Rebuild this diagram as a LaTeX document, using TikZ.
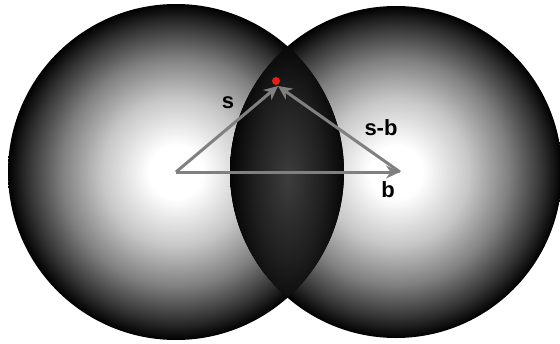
\documentclass[tikz,border=0pt]{standalone}
\usepackage{fontspec}
\setmainfont{Liberation Sans}
\usetikzlibrary{arrows.meta}
\pgfdeclareradialshading{sphereglow}{\pgfpoint{0bp}{0bp}}{color(0bp)=(white); color(4bp)=(white); color(11bp)=(black!22); color(17bp)=(black!50); color(22bp)=(black!80); color(25bp)=(black); color(50bp)=(black)}
\pgfdeclareradialshading{lensglow}{\pgfpoint{0bp}{0bp}}{color(0bp)=(black!76); color(14bp)=(black!88); color(25bp)=(black); color(50bp)=(black)}
\definecolor{vecgray}{gray}{0.5}
\definecolor{pointred}{RGB}{230,30,20}
\tikzset{
ballshade/.style={shading=sphereglow},
vector/.style={draw=vecgray,line width=3pt,-{Stealth[length=14pt,width=13pt]}},
vlabel/.style={font=\bfseries\fontsize{22}{24}\selectfont,inner sep=0pt},
point/.style={circle,fill=pointred,inner sep=0pt,minimum size=8pt}
}
\begin{document}
\begin{tikzpicture}[x=1pt,y=-1pt]
\useasboundingbox[fill=white](0,0) rectangle (560,343);
\coordinate(origin) at (176,172);\coordinate(base) at (400,172);\coordinate(target) at (278,86);
% the two spheres
\shade[ballshade](176,172) circle (168pt);
\shade[ballshade](396,172) circle (166pt);
% overlap
\begin{scope}
\clip(176,172) circle (168pt);\clip(396,172) circle (166pt);
\fill[black](220,0) rectangle (360,343);
\shade[shading=lensglow](288,178) ellipse (62pt and 150pt);
\end{scope}
\node[point](hit) at (276,81){};
\draw[vector](origin)--(target);\draw[vector](base)--(target);\draw[vector](origin)--(base);
\node[vlabel](slabel) at (228,103){s};
\node[vlabel](sblabel) at (381,128){s-b};
\node[vlabel](blabel) at (388,190){b};
\end{tikzpicture}
\end{document}
